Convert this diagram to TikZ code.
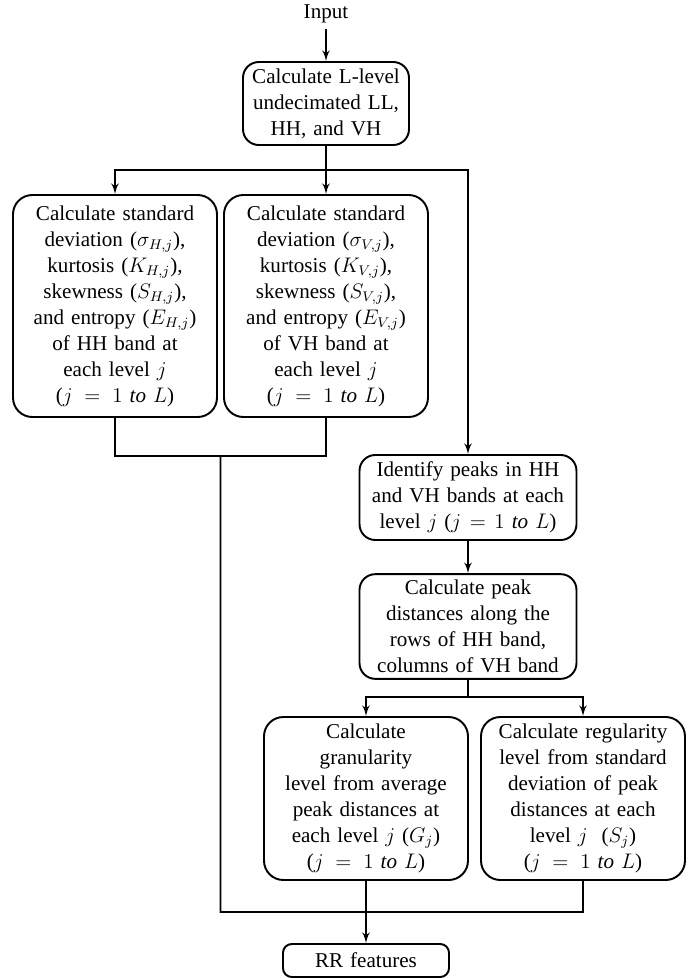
\documentclass[tikz,border=0pt]{standalone}
\usepackage{amsmath}
\usepackage{fontspec}
\setmainfont{Liberation Serif}
\usepackage{tikz}
\usetikzlibrary{shapes,arrows}
\tikzstyle{block} = [draw, line width=1.1pt, rectangle, rounded corners=9pt, align=center,
    inner xsep=0pt, font=\fontsize{12}{14.8}\selectfont]
\tikzstyle{bigblock} = [block, text width=4.08cm, rounded corners=11pt]
\tikzstyle{line} = [draw, line width=1.1pt]

\begin{document}
\begin{tikzpicture}[auto, node distance=2cm,>=latex']
    \useasboundingbox (0,0) rectangle (13.8,-19.56);
    \node [font=\fontsize{12}{14.8}\selectfont] (input) at (6.52,-0.28) {Input};
    \node [block, below of=input, node distance=1.79cm, text width=3.32cm, minimum height=1.66cm] (calcBands) {Calculate L-level\\undecimated LL,\\HH, and VH};
    \draw [line,->] (input) -- (calcBands);
    \node [bigblock, below of=calcBands, node distance=4.05cm, minimum height=4.44cm] (vhStats) {Calculate standard\\deviation ($\sigma_{V,j}$),\\kurtosis ($K_{V,j}$),\\skewness ($S_{V,j}$),\\and entropy ($E_{V,j}$)\\of VH band at\\each level $j$\\($j = 1\ \mathit{to}\ L$)};
    \node [bigblock, left of=vhStats, node distance=4.22cm, minimum height=4.44cm] (hhStats) {Calculate standard\\deviation ($\sigma_{H,j}$),\\kurtosis ($K_{H,j}$),\\skewness ($S_{H,j}$),\\and entropy ($E_{H,j}$)\\of HH band at\\each level $j$\\($j = 1\ \mathit{to}\ L$)};
    \node [block, below of=vhStats, node distance=3.83cm, xshift=2.84cm, text width=4.34cm, minimum height=1.7cm] (findPeaks) {Identify peaks in HH\\and VH bands at each\\level $j$ ($j = 1\ \mathit{to}\ L$)};
    \coordinate [below of=calcBands, node distance=1.33cm] (split1);
    \draw [line] (calcBands) -- (split1);
    \draw [line,->] (split1) -| (hhStats);
    \draw [line,->] (split1) -- (vhStats);
    \draw [line,->] (split1) -| (findPeaks);
    \node [block, below of=findPeaks, node distance=2.58cm, text width=4.34cm, minimum height=2.02cm] (peakDist) {Calculate peak\\distances along the\\rows of HH band,\\columns of VH band};
    \draw [line,->] (findPeaks) -- (peakDist);
    \node [bigblock, below of=peakDist, node distance=3.44cm, xshift=-2.04cm, minimum height=3.26cm] (granularity) {Calculate\\granularity\\level from average\\peak distances at\\each level $j$ ($G_j$)\\($j = 1\ \mathit{to}\ L$)};
    \node [bigblock, right of=granularity, node distance=4.34cm, minimum height=3.26cm] (regularity) {Calculate regularity\\level from standard\\deviation of peak\\distances at each\\level $j$ \ ($S_j$)\\($j = 1\ \mathit{to}\ L$)};
    \coordinate [below of=peakDist, node distance=1.41cm] (split2);
    \draw [line] (peakDist) -- (split2);
    \draw [line,->] (split2) -| (granularity);
    \draw [line,->] (split2) -| (regularity);
    \node [block, below of=granularity, node distance=3.24cm, text width=3.32cm, minimum height=0.66cm, rounded corners=5pt] (rrFeatures) {RR features};
    \draw [line,->] (granularity) -- (rrFeatures);
    % merge of the statistics branch
    \coordinate [below of=hhStats, node distance=3.0cm] (hhEnd);
    \coordinate [below of=vhStats, node distance=3.0cm] (vhEnd);
    \coordinate [right of=hhEnd, node distance=2.11cm] (merge);
    \coordinate [below of=merge, node distance=9.12cm] (mergeEnd);
    \coordinate [below of=regularity, node distance=2.27cm] (regEnd);
    \draw [line] (hhStats) -- (hhEnd) -- (vhEnd) -- (vhStats);
    \draw [line] (merge) -- (mergeEnd) -- (regEnd) -- (regularity);
\end{tikzpicture}
\end{document}
